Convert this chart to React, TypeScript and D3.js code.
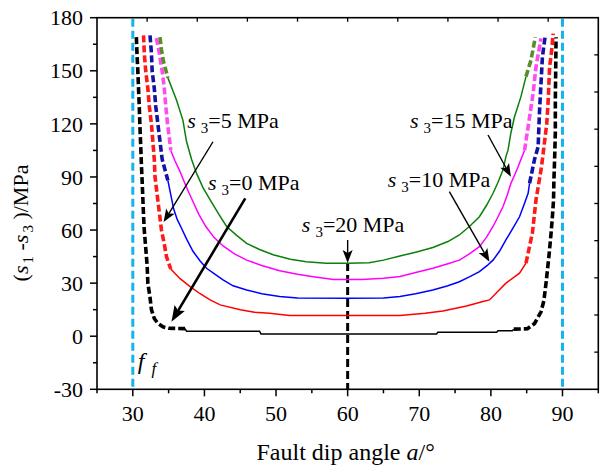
import React from 'react'
import * as d3 from 'd3'

type Pt = [number, number]

// fault dip angle (deg) vs (s1 - s3) in MPa
const sigma0: Pt[] = [
	[30.5, 169], [30.6, 158], [30.7, 150], [30.8, 140], [30.9, 130], [31.0, 118], [31.1, 108],
	[31.2, 97], [31.3, 88], [31.4, 78], [31.5, 68], [31.6, 60], [31.8, 50], [32.0, 40], [32.1, 30],
	[32.4, 22], [32.6, 15], [33.0, 10], [33.5, 7.2], [34.2, 5.3], [35, 4.5], [37.3, 4.3], [37.5, 2.8],
	[47.7, 2.8], [47.9, 1.2], [72.4, 1.2], [72.6, 2.2], [80.8, 2.2], [81, 3.1], [83, 3.1], [83.2, 4.0],
	[85.1, 4.2], [86.1, 7.2], [87.0, 13.8], [87.4, 20], [87.7, 30], [88.1, 45], [88.4, 58], [88.6, 68],
	[88.75, 77], [88.8, 88], [88.9, 100], [89.0, 115], [89.0, 133], [89.05, 150], [89.1, 169],
]
const sigma5: Pt[] = [
	[31.5, 170], [31.6, 160], [31.8, 150], [32.1, 140], [32.3, 130], [32.6, 120], [32.8, 110],
	[33.0, 100], [33.1, 90], [33.4, 80], [33.7, 70], [34.0, 60], [34.4, 52], [34.7, 45], [35.3, 38],
	[36.6, 32.5], [38, 28], [39.4, 24], [40.8, 20.5], [42.2, 17.7], [45, 14.9], [47, 13.6], [49.1, 13],
	[51.9, 11.7], [60, 11.7], [67.3, 11.7], [70.8, 13], [73.3, 14.3], [76.6, 17.1], [78.9, 19.6],
	[79.8, 20.5], [82.1, 30], [84, 35.6], [84.9, 41.3], [85.8, 58.4], [86.3, 77], [87.0, 94],
	[87.2, 100], [87.5, 110], [87.8, 120], [88.0, 133], [88.2, 152], [88.5, 162], [88.7, 171],
]
const sigma10: Pt[] = [
	[32.4, 170], [32.6, 160], [32.7, 150], [33.0, 140], [33.2, 130], [33.5, 120], [33.8, 110],
	[34.1, 100], [34.5, 94], [34.9, 88], [35.3, 80], [35.7, 72], [36.2, 66], [36.8, 61], [37.5, 55],
	[38.4, 48], [39.4, 42.5], [40.3, 38.4], [41.5, 35], [42.6, 31.8], [44, 28.5], [45.9, 26.1],
	[48, 24], [50.5, 22.4], [53, 21.6], [60, 21.5], [65, 21.6], [67.3, 22.4], [69.5, 24], [71.9, 26.1],
	[74, 28.5], [75.6, 30.8], [77, 33.5], [78.4, 36.5], [79.5, 40], [80.3, 43], [81.2, 48],
	[82.1, 54.4], [83, 60.5], [84, 67.5], [84.6, 74], [85.2, 80.8], [85.4, 86.4], [86.1, 100],
	[86.6, 107], [86.8, 128], [87.0, 143], [87.2, 158], [87.6, 170],
]
const sigma15: Pt[] = [
	[33.3, 168.5], [33.7, 160], [34.1, 150], [34.4, 140], [34.6, 130], [34.85, 120], [35.1, 112],
	[35.3, 105], [35.9, 99], [36.6, 93], [37.4, 85], [38.3, 77], [39.2, 69], [40.2, 62], [41.3, 56],
	[42.6, 51], [44.2, 46.5], [45.9, 43], [48, 40], [50.5, 37], [53, 35], [55.2, 33.6], [58, 32],
	[62, 32], [65, 32.8], [67.3, 33.8], [69.5, 36], [71.9, 38.4], [74, 41], [75.6, 43], [77, 46.5],
	[78.4, 50.6], [79.4, 56], [80.3, 62], [81, 67.5], [81.7, 73.3], [82.3, 80], [82.8, 86.4],
	[83.3, 91], [83.8, 95.8], [84.2, 100], [84.7, 105], [85.2, 118.4], [85.9, 137.3], [86.3, 152.3],
	[87.0, 168.3],
]
const sigma20: Pt[] = [
	[33.8, 169], [34.0, 162], [34.3, 155], [34.9, 146], [36.1, 133.5], [37.0, 122], [37.5, 110],
	[38.2, 100], [38.9, 92], [39.8, 84], [40.8, 77], [42, 69], [43.1, 62], [44.5, 57], [45.9, 52.5],
	[47.7, 49], [49.6, 46], [52, 43.5], [54.2, 42.1], [57, 41.3], [60, 41.2], [63, 41.5], [65, 43],
	[67.3, 45.3], [69.5, 47.5], [71.9, 50.1], [74, 53.5], [75.6, 57.2], [77, 62], [78.4, 67.5],
	[79.4, 74], [80.3, 80.8], [81, 87], [81.7, 94], [82.1, 101.5], [82.4, 105.3], [82.8, 115],
	[83.3, 124], [84.2, 135.4], [84.9, 146.7], [85.6, 156], [86.2, 169],
]

const xTicks = [30, 40, 50, 60, 70, 80, 90]
const yTicks = [-30, 0, 30, 60, 90, 120, 150, 180]

// [series, value above which the curve is drawn dashed, solid colour, dash colour]
const curves: [Pt[], number, string, string][] = [
	[sigma0, 3.5, '#000000', '#000000'],
	[sigma5, 37.5, '#ff0000', '#ff1a1a'],
	[sigma10, 86, '#0000ff', '#1212a6'],
	[sigma15, 103, '#ff00ff', '#ff4cf0'],
	[sigma20, 145.5, '#0a800a', '#5b8c2a'],
]

// label text (subscript value), label pos, arrow start, arrow tip (data units)
const notes: { s3: string; at: Pt; from: Pt; to: Pt; bold?: boolean }[] = [
	{ s3: '5', at: [37.6, 117.7], from: [41.2, 109.9], to: [34.3, 64.5] },
	{ s3: '0', at: [40.5, 82.6], from: [45.7, 77.9], to: [35.4, 8.2], bold: true },
	{ s3: '20', at: [53.6, 59], from: [60, 54.4], to: [60, 41.4] },
	{ s3: '15', at: [68.7, 117.7], from: [79.6, 113.7], to: [82.8, 90.1] },
	{ s3: '10', at: [65.6, 84.5], from: [74.2, 81.7], to: [79.8, 42.1] },
]

const frictionLines = [30, 90]

const font = '"Liberation Serif", "Times New Roman", serif'

function runs(pts: Pt[], thr: number) {
	const out: { dashed: boolean; pts: Pt[] }[] = []
	for (let i = 1; i < pts.length; i++) {
		const dashed = pts[i - 1][1] >= thr && pts[i][1] >= thr
		const last = out[out.length - 1]
		if (last && last.dashed === dashed) last.pts.push(pts[i])
		else out.push({ dashed, pts: [pts[i - 1], pts[i]] })
	}
	return out
}

export default function App() {
	const W = 604
	const H = 470
	const x = d3.scaleLinear().domain([25, 95]).range([97, 598.3])
	const y = d3.scaleLinear().domain([-30, 180]).range([389.3, 17.7])
	const line = d3.line<Pt>().x(d => x(d[0])).y(d => y(d[1]))

	const [x0, x1] = x.range()
	const [y0, y1] = y.range()
	const topScale = d3.scaleLinear().domain([0, 10]).range([x0, x1])
	const rightScale = d3.scaleLinear().domain([0, 10]).range([y1, y0])

	const arrow = (n: typeof notes[number], i: number) => {
		const ax = x(n.from[0]), ay = y(n.from[1])
		const bx = x(n.to[0]), by = y(n.to[1])
		const len = Math.hypot(bx - ax, by - ay)
		const ux = (bx - ax) / len, uy = (by - ay) / len
		const hl = n.bold ? 16 : 13
		const hw = n.bold ? 6 : 5
		const cx = bx - ux * hl, cy = by - uy * hl
		const head = [
			[bx, by],
			[cx - uy * hw, cy + ux * hw],
			[cx + ux * 3, cy + uy * 3],
			[cx + uy * hw, cy - ux * hw],
		]
		return (
			<g key={'a' + i}>
				<line x1={ax} y1={ay} x2={cx + ux * 3} y2={cy + uy * 3} stroke="#000" strokeWidth={n.bold ? 2.6 : 1.4} />
				<polygon points={head.map(p => p.join(',')).join(' ')} fill="#000" />
			</g>
		)
	}

	return (
		<svg width={W} height={H} style={{ position: 'absolute', left: 0, top: 0, background: '#fff' }} fontFamily={font}>
			{/* friction angle guides */}
			{frictionLines.map(v => (
				<line key={v} x1={x(v)} x2={x(v)} y1={y1 + 1} y2={y0} stroke="#14b4ee" strokeWidth={3} strokeDasharray="8 4" />
			))}
			{/* s3 = 20 MPa pointer down to axis */}
			<line x1={x(60)} x2={x(60)} y1={y(41.4)} y2={y0} stroke="#000" strokeWidth={3} strokeDasharray="8 4" />

			{curves.map(([pts, thr, col, dcol], i) =>
				runs(pts, thr).map((r, j) => (
					<path
						key={i + '-' + j}
						d={line(r.pts) || ''}
						fill="none"
						stroke={r.dashed ? dcol : col}
						strokeWidth={r.dashed ? 3.6 : 1.5}
						strokeDasharray={r.dashed ? '7 3' : undefined}
					/>
				))
			)}

			{notes.map(arrow)}
			{notes.map((n, i) => (
				<text key={'t' + i} x={x(n.at[0])} y={y(n.at[1])} fontSize={22}>
					<tspan fontStyle="italic">s</tspan>
					<tspan dx={5} dy={5} fontSize={15}>3</tspan>
					<tspan dy={-5}>={n.s3} MPa</tspan>
				</text>
			))}

			<text x={x(30.7)} y={y(-18.6)} fontSize={24} fontStyle="italic">
				f<tspan dx={7} dy={5} fontSize={17}>f</tspan>
			</text>

			{/* frame */}
			<rect x={x0} y={y1} width={x1 - x0} height={y0 - y1} fill="none" stroke="#000" strokeWidth={1.6} />

			{/* bottom axis */}
			{d3.range(25, 96, 5).map(v => (
				<line key={'bx' + v} x1={x(v)} x2={x(v)} y1={y0} y2={y0 + (v % 10 === 0 ? 7 : 4)} stroke="#000" strokeWidth={1.5} />
			))}
			{xTicks.map(v => (
				<text key={'bl' + v} x={x(v)} y={421} fontSize={22} textAnchor="middle">{v}</text>
			))}
			{/* left axis */}
			{d3.range(-30, 181, 15).map(v => (
				<line key={'ly' + v} x1={x0 - (v % 30 === 0 ? 7 : 4)} x2={x0} y1={y(v)} y2={y(v)} stroke="#000" strokeWidth={1.5} />
			))}
			{yTicks.map(v => (
				<text key={'ll' + v} x={83} y={y(v)} dy="0.35em" fontSize={22} textAnchor="end">{v}</text>
			))}
			{/* opposite axes, inward ticks only */}
			{d3.range(1, 10).map(k => (
				<g key={'o' + k}>
					<line x1={topScale(k)} x2={topScale(k)} y1={y1} y2={y1 + 4} stroke="#000" strokeWidth={1.3} />
					<line x1={x1 - 4} x2={x1} y1={rightScale(k)} y2={rightScale(k)} stroke="#000" strokeWidth={1.3} />
				</g>
			))}

			<text x={(x0 + x1) / 2 - 2} y={460} fontSize={24} textAnchor="middle">
				Fault dip angle <tspan fontStyle="italic">a</tspan>/°
			</text>
			<text transform="translate(28,223) rotate(-90)" fontSize={22} textAnchor="middle">
				(<tspan fontStyle="italic">s</tspan>
				<tspan dx={2} dy={5} fontSize={15}>1</tspan>
				<tspan dy={-5}> -</tspan>
				<tspan fontStyle="italic">s</tspan>
				<tspan dx={2} dy={5} fontSize={15}>3</tspan>
				<tspan dy={-5}> )/MPa</tspan>
			</text>
		</svg>
	)
}
